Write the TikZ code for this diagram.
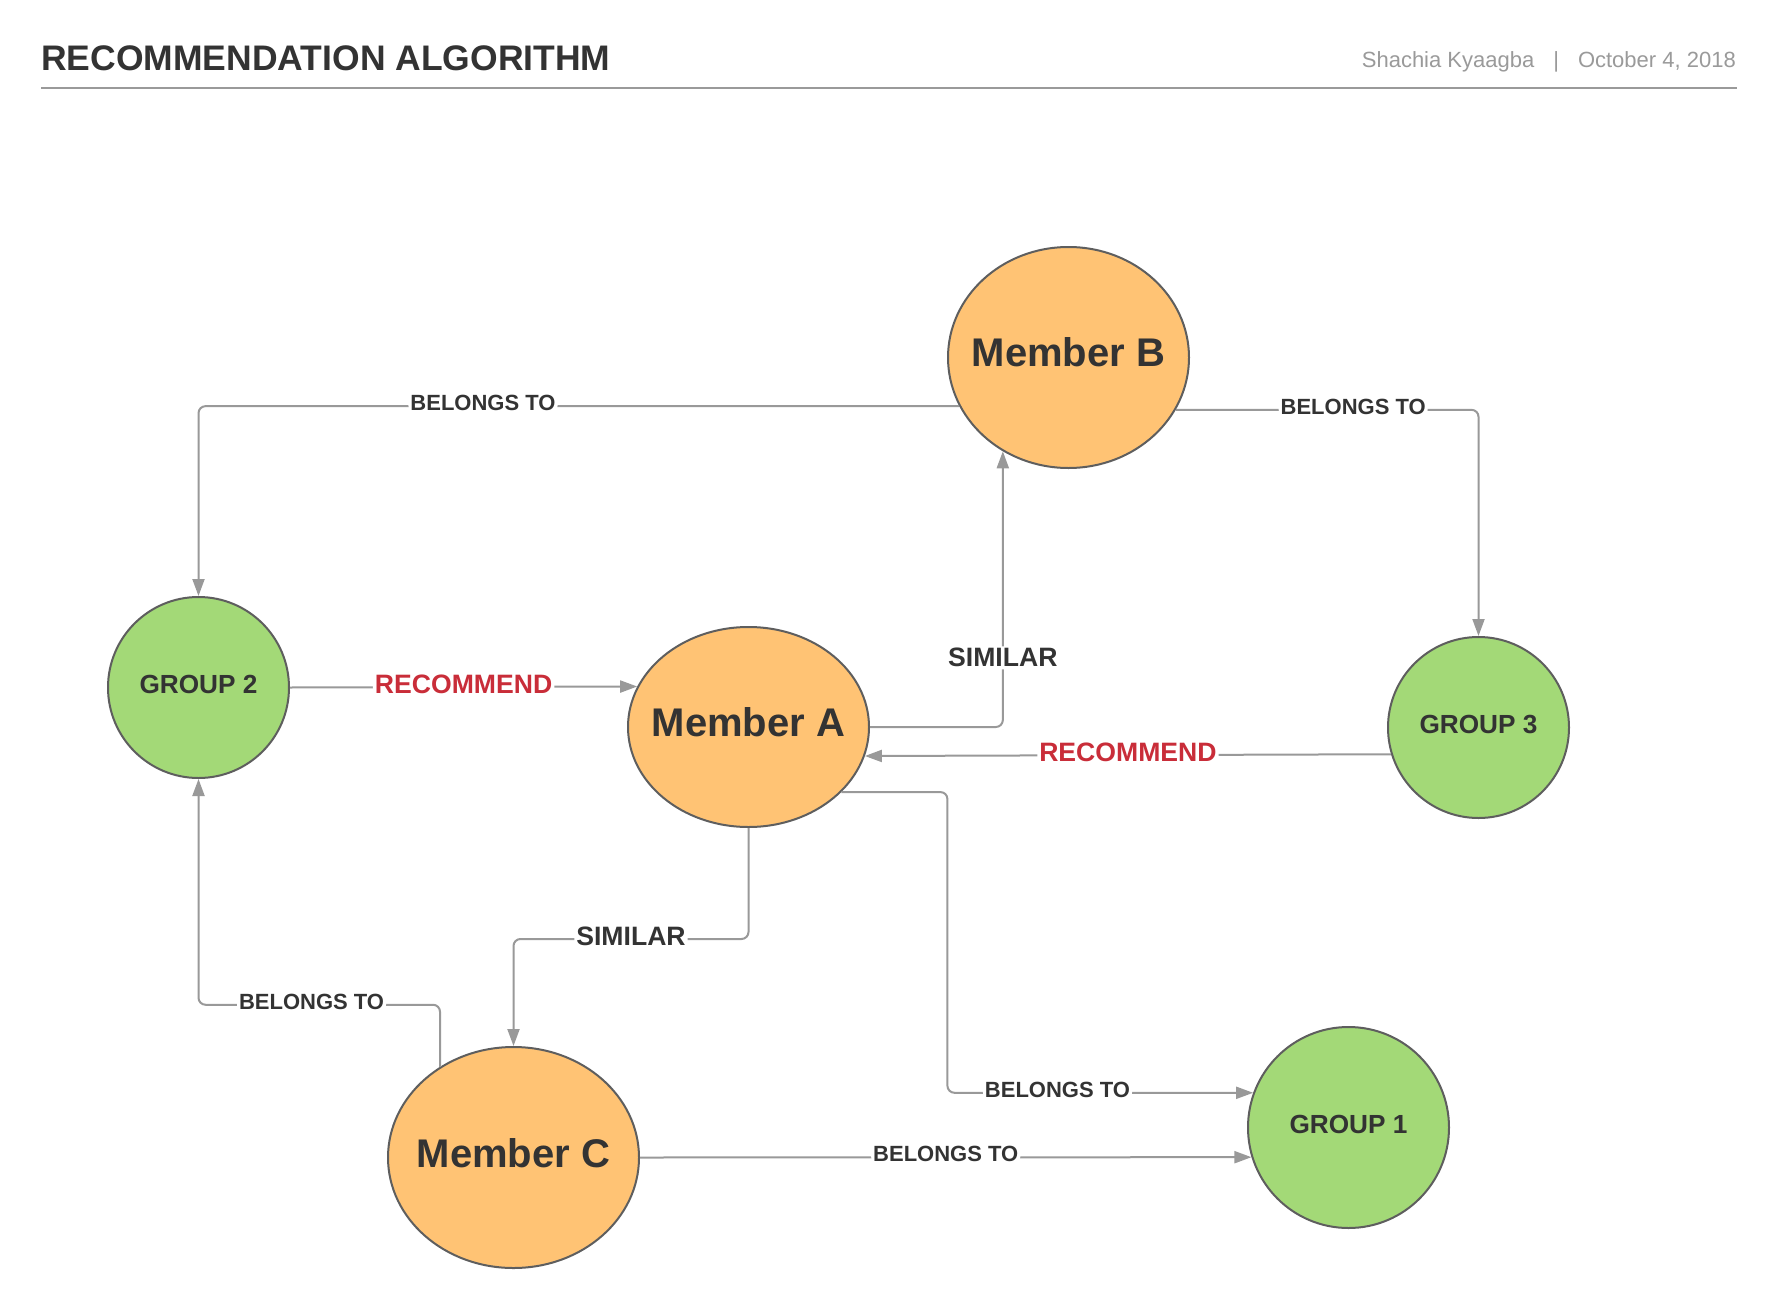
\documentclass[tikz,border=0pt]{standalone}
\usepackage{fontspec}
\setmainfont{Liberation Sans}
\usetikzlibrary{shapes.geometric,arrows.meta}
\definecolor{memberfill}{HTML}{FFC374}
\definecolor{groupfill}{HTML}{A3D977}
\definecolor{edgegray}{HTML}{5E5E5E}
\definecolor{linegray}{HTML}{999999}
\definecolor{textgray}{HTML}{333333}
\definecolor{headgray}{HTML}{9A9A9A}
\definecolor{recred}{HTML}{C92D39}
\begin{document}
\begin{tikzpicture}[x=1pt,y=-1pt,
  member/.style={ellipse,draw=edgegray,line width=2pt,fill=memberfill,inner sep=0pt,text depth=10pt,text=textgray,font=\fontsize{40}{40}\selectfont\bfseries},
  group/.style={circle,draw=edgegray,line width=2pt,fill=groupfill,inner sep=0pt,text depth=6pt,text=textgray,font=\fontsize{26.2}{26.2}\selectfont\bfseries},
  link/.style={draw=linegray,line width=2pt,rounded corners=7pt,-{Triangle[length=17pt,width=12pt]}},
  belongs/.style={fill=white,inner sep=2pt,yshift=3pt,text=textgray,font=\fontsize{22}{22}\selectfont\bfseries},
  similar/.style={belongs,font=\fontsize{26.6}{26.6}\selectfont\bfseries},
  recommend/.style={similar,text=recred}]
\fill[white] (0,0) rectangle (1777,1308);
\useasboundingbox (0,0) rectangle (1777,1308);

% header
\node[anchor=base west,inner sep=0pt,text=textgray,font=\fontsize{35.5}{35.5}\selectfont\bfseries] (title) at (41,71) {RECOMMENDATION ALGORITHM};
\node[anchor=base east,inner sep=0pt,text=headgray,font=\fontsize{22}{22}\selectfont] (byline) at (1736,68) {Shachia Kyaagba\hspace{19pt}|\hspace{19pt}October 4, 2018};
\draw[headgray,line width=2pt] (41,88) -- (1737,88);

% members
\node[member,minimum width=241pt,minimum height=221pt] (mb) at (1068.5,357.5) {\makebox[0pt]{Member B}};
\node[member,minimum width=241pt,minimum height=200pt] (ma) at (748.5,727) {\makebox[0pt]{Member A}};
\node[member,minimum width=251pt,minimum height=221pt] (mc) at (513.5,1157.5) {\makebox[0pt]{Member C}};

% groups
\node[group,minimum size=181pt] (g2) at (198.5,687.5) {GROUP 2};
\node[group,minimum size=181pt] (g3) at (1478.5,727.5) {GROUP 3};
\node[group,minimum size=201pt] (g1) at (1348.5,1127.5) {GROUP 1};

% relations
\draw[link] (mb.204.7) -| node[belongs,pos=0.313] {BELONGS TO} (g2);
\draw[link] (mb.334.2) -| node[belongs,pos=0.293] {BELONGS TO} (g3);
\draw[link] (g2.east) -- node[recommend] {RECOMMEND} (ma.160.4);
\draw[link] (ma.east) -| node[similar,pos=0.62] {SIMILAR} (mb.235.6);
\draw[link] (g3.197) -- node[recommend] {RECOMMEND} (ma.346.9);
\draw[link] (ma.325.35) -- ++(106,0) |- node[belongs,pos=0.68] {BELONGS TO} (g1.160.5);
\draw[link] (ma.south) -- ++(0,111) -| node[similar,pos=0.25] {SIMILAR} (mc);
\draw[link] (mc.129.4) -- ++(0,-62) -| node[belongs,pos=0.266] {BELONGS TO} (g2);
\draw[link] (mc.east) -- node[belongs] {BELONGS TO} (g1.197.7);

\end{tikzpicture}
\end{document}
